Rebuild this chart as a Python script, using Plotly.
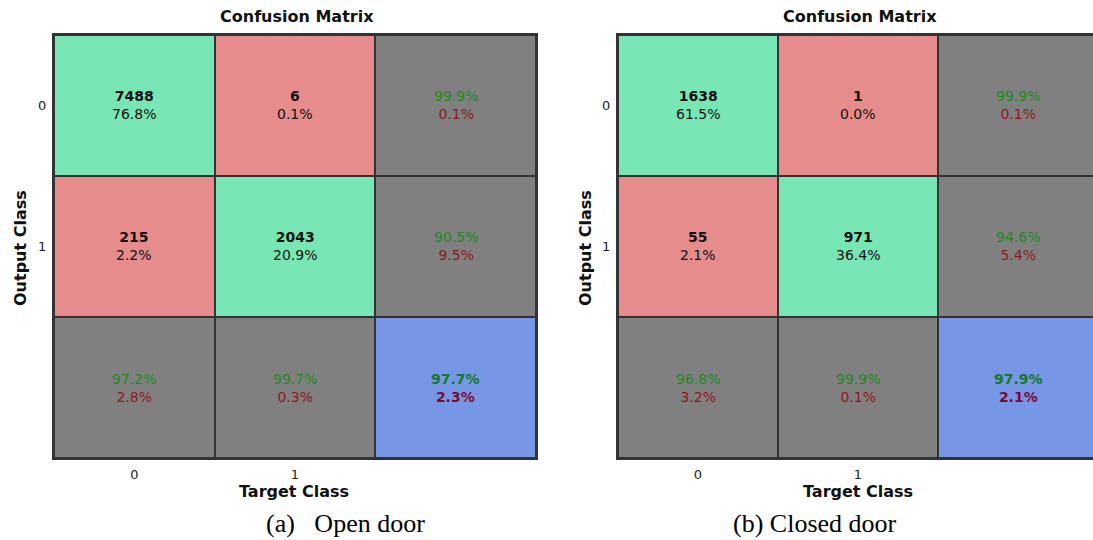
import plotly.graph_objects as go

# ---- data -------------------------------------------------------------
classes = ["0", "1"]

# counts[output_row][target_col]
open_counts = [[7488, 6], [215, 2043]]
closed_counts = [[1638, 1], [55, 971]]

panel_titles = ["Confusion Matrix", "Confusion Matrix"]
captions = ["(a)\u00a0\u00a0\u00a0Open door", "(b) Closed door"]

# ---- styling ----------------------------------------------------------
W, H = 1093, 540
GREEN_CELL = "#78E6B4"
RED_CELL = "#E68C8C"
GRAY_CELL = "#808080"
BLUE_CELL = "#7896E6"
GRID = "#333333"
TXT_GREEN = "#1f8a1f"
TXT_RED = "#8b1a1a"
FONT = "DejaVu Sans"


def px(x):
    return x / W


def py(y):
    return 1 - y / H


def cm_layers(counts):
    """Colour index and cell texts for a 2-class confusion matrix with summaries."""
    total = sum(sum(r) for r in counts)
    zc = [[0, 1, 2], [1, 0, 2], [2, 2, 3]]
    texts = [["", "", ""] for _ in range(3)]
    for i in range(2):
        for j in range(2):
            v = counts[i][j]
            texts[i][j] = f"<b>{v}</b><br>{100 * v / total:.1f}%"
    for i in range(2):
        rs = sum(counts[i])
        acc = 100 * counts[i][i] / rs
        texts[i][2] = (f"<span style='color:{TXT_GREEN}'>{acc:.1f}%</span><br>"
                       f"<span style='color:{TXT_RED}'>{100 - acc:.1f}%</span>")
    for j in range(2):
        cs = counts[0][j] + counts[1][j]
        acc = 100 * counts[j][j] / cs
        texts[2][j] = (f"<span style='color:{TXT_GREEN}'>{acc:.1f}%</span><br>"
                       f"<span style='color:{TXT_RED}'>{100 - acc:.1f}%</span>")
    acc = 100 * (counts[0][0] + counts[1][1]) / total
    texts[2][2] = (f"<b><span style='color:#127a2a'>{acc:.1f}%</span><br>"
                   f"<span style='color:#7a0a30'>{100 - acc:.1f}%</span></b>")
    return zc, texts


def paper_text(x, y, text, size, family=FONT, angle=0, color="#111111"):
    return dict(x=px(x), y=py(y), xref="paper", yref="paper", text=text,
                showarrow=False, xanchor="center", yanchor="middle", textangle=angle,
                font=dict(family=family, size=size, color=color))


fig = go.Figure()
colorscale = [[0, GREEN_CELL], [1 / 3, RED_CELL], [2 / 3, GRAY_CELL], [1, BLUE_CELL]]

panels = [
    dict(counts=open_counts, left=54, right=536, xa="x", ya="y", xr=[-0.5, 2.5],
         ymirror=True, ylab_x=20, title_x=297, xlab_x=294, cap_x=345),
    dict(counts=closed_counts, left=618, right=W, xa="x2", ya="y2",
         xr=[-0.5, 2.5 - 5 / 160], ymirror=False, ylab_x=585, title_x=860,
         xlab_x=858, cap_x=815),
]
top, bottom = 35, 458

annotations = []
for k, p in enumerate(panels):
    zc, texts = cm_layers(p["counts"])
    fig.add_trace(go.Heatmap(
        z=zc, x=[0, 1, 2], y=[0, 1, 2], colorscale=colorscale, zmin=0, zmax=3,
        showscale=False, xgap=2, ygap=2, hoverinfo="skip",
        xaxis=p["xa"], yaxis=p["ya"],
    ))
    for i in range(3):
        for j in range(3):
            annotations.append(dict(
                x=j, y=i, xref=p["xa"], yref=p["ya"], text=texts[i][j], showarrow=False,
                xanchor="center", yanchor="middle",
                font=dict(family=FONT, size=14, color="#111111"),
            ))
    annotations.append(paper_text(p["title_x"], 17, f"<b>{panel_titles[k]}</b>", 16))
    annotations.append(paper_text(p["xlab_x"], 491, "<b>Target Class</b>", 16))
    annotations.append(paper_text(p["ylab_x"], 248, "<b>Output Class</b>", 16, angle=-90))
    annotations.append(paper_text(p["cap_x"], 523, captions[k], 26,
                                  family="Liberation Serif", color="#000000"))

    axis_common = dict(showgrid=False, zeroline=False, showline=True, linecolor=GRID,
                       linewidth=2, ticks="", ticklabelstandoff=3,
                       tickfont=dict(family=FONT, size=13, color="#222222"))
    xname = "xaxis" if k == 0 else "xaxis2"
    yname = "yaxis" if k == 0 else "yaxis2"
    fig.update_layout({
        xname: dict(axis_common, domain=[px(p["left"]), px(p["right"])], range=p["xr"],
                    tickvals=[0, 1], ticktext=classes, mirror=True,
                    anchor=p["ya"]),
        yname: dict(axis_common, domain=[py(bottom), py(top)], range=[2.5, -0.5],
                    tickvals=[0, 1], ticktext=classes, mirror=p["ymirror"],
                    anchor=p["xa"]),
    })

fig.update_layout(
    width=W, height=H, margin=dict(l=0, r=0, t=0, b=0),
    paper_bgcolor="white", plot_bgcolor=GRID,
    annotations=annotations, showlegend=False,
)

fig.write_html("out.html", config={"displayModeBar": False})
